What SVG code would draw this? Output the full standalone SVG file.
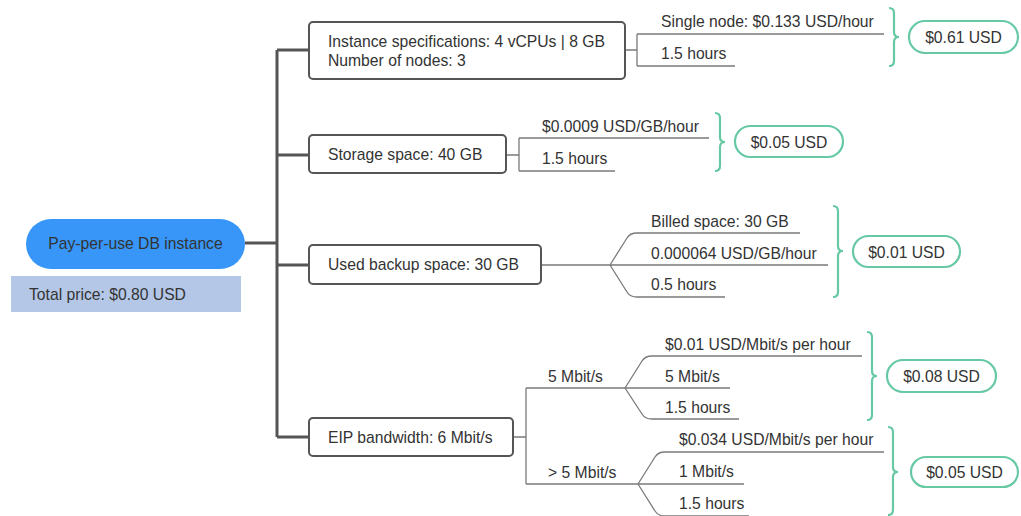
<svg xmlns="http://www.w3.org/2000/svg" width="1021" height="516" viewBox="0 0 1021 516">
<style>
text{font-family:"Liberation Sans",Arial,sans-serif;font-size:15.7px;fill:#333}
.box{fill:#fff;stroke:#555;stroke-width:2}
.trunk{fill:none;stroke:#555;stroke-width:3}
.ln{fill:none;stroke:#7a7a7a;stroke-width:1.3}
.brace{fill:none;stroke:#66c9a4;stroke-width:2.2}
.pill{fill:#fff;stroke:#66c9a4;stroke-width:2.2}
.c{text-anchor:middle}
</style>
<rect width="1021" height="516" fill="#fff"/>
<g id="connectors">
<path class="trunk" d="M245,243H277M277,50V437M277,50H309M277,155H309M277,265H309M277,437H309"/>
<path class="ln" d="M625,50H637M637,34V66M637,34H884M637,66H735"/>
<path class="ln" d="M506,155H519M519,138V171M519,138H709M519,171H615"/>
<path class="ln" d="M541,265H828M610,265L627,238Q630,233 637,233H800M610,265L627,292Q630,297 637,297H725"/>
<path class="ln" d="M513,437H526M526,388V484M526,388H730M526,484H744"/>
<path class="ln" d="M625,388L642,361Q645,356 652,356H862M625,388L642,414Q645,419 652,419H739"/>
<path class="ln" d="M638,484L655,457Q658,452 665,452H884M638,484L655,511Q658,516 665,516H749"/>
</g>
<g id="root">
<rect x="26" y="219" width="219" height="50" rx="25" fill="#3796f8"/>
<text x="135.5" y="249" class="c">Pay-per-use DB instance</text>
</g>
<g id="total">
<rect x="11" y="276" width="230" height="36" fill="#b4c7e7"/>
<text x="29" y="300">Total price: $0.80 USD</text>
</g>
<g id="n-instance">
<rect class="box" x="309" y="22" width="316" height="57" rx="4"/>
<text x="328" y="47">Instance specifications: 4 vCPUs | 8 GB</text>
<text x="328" y="66">Number of nodes: 3</text>
</g>
<g id="n-instance-detail">
<text x="661" y="27">Single node: $0.133 USD/hour</text>
<text x="661" y="59">1.5 hours</text>
<path class="brace" d="M889,8q5,0 5,5V32q0,5 5,5q-5,0 -5,5V61q0,5 -5,5"/>
<rect class="pill" x="909" y="21" width="109" height="32" rx="16"/>
<text x="963.5" y="43" class="c">$0.61 USD</text>
</g>
<g id="n-storage">
<rect class="box" x="309" y="135" width="197" height="38" rx="4"/>
<text x="328" y="160">Storage space: 40 GB</text>
</g>
<g id="n-storage-detail">
<text x="542" y="132">$0.0009 USD/GB/hour</text>
<text x="542" y="164">1.5 hours</text>
<path class="brace" d="M715,113q5,0 5,5V137q0,5 5,5q-5,0 -5,5V166q0,5 -5,5"/>
<rect class="pill" x="735" y="126" width="108" height="31" rx="15.5"/>
<text x="789" y="147.5" class="c">$0.05 USD</text>
</g>
<g id="n-backup">
<rect class="box" x="309" y="245" width="232" height="39" rx="4"/>
<text x="328" y="270">Used backup space: 30 GB</text>
</g>
<g id="n-backup-detail">
<text x="651" y="227">Billed space: 30 GB</text>
<text x="651" y="259">0.000064 USD/GB/hour</text>
<text x="651" y="290">0.5 hours</text>
<path class="brace" d="M833,206q5,0 5,5V246q0,5 5,5q-5,0 -5,5V292q0,5 -5,5"/>
<rect class="pill" x="853" y="236" width="107" height="31" rx="15.5"/>
<text x="906.5" y="257.5" class="c">$0.01 USD</text>
</g>
<g id="n-eip">
<rect class="box" x="309" y="418" width="204" height="38" rx="4"/>
<text x="328" y="442.5">EIP bandwidth: 6 Mbit/s</text>
</g>
<g id="n-eip-detail">
<text x="548" y="382">5 Mbit/s</text>
<text x="548" y="478">&gt; 5 Mbit/s</text>
<text x="665" y="350">$0.01 USD/Mbit/s per hour</text>
<text x="665" y="382">5 Mbit/s</text>
<text x="665" y="413">1.5 hours</text>
<path class="brace" d="M867,332q5,0 5,5V371q0,5 5,5q-5,0 -5,5V415q0,5 -5,5"/>
<rect class="pill" x="887" y="360" width="109" height="32" rx="16"/>
<text x="941.5" y="381.5" class="c">$0.08 USD</text>
<text x="679" y="445">$0.034 USD/Mbit/s per hour</text>
<text x="679" y="477">1 Mbit/s</text>
<text x="679" y="509">1.5 hours</text>
<path class="brace" d="M888,427q5,0 5,5V467q0,5 5,5q-5,0 -5,5V510q0,5 -5,5"/>
<rect class="pill" x="911" y="457" width="107" height="30" rx="15"/>
<text x="964.5" y="477.5" class="c">$0.05 USD</text>
</g>
</svg>
